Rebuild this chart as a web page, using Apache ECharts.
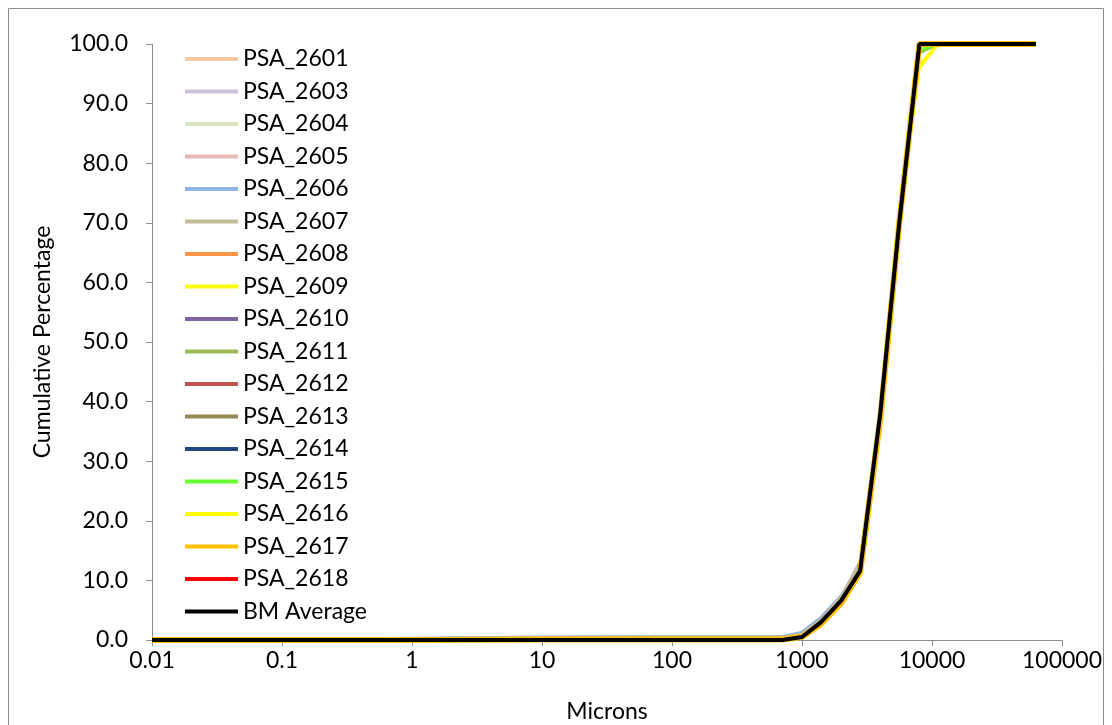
<!DOCTYPE html>
<html>
<head>
<meta charset="utf-8">
<script src="https://cdn.jsdelivr.net/npm/echarts@6/dist/echarts.min.js"></script>
<style>
  html, body { margin: 0; padding: 0; background: #fff; }
  #chart { width: 1112px; height: 725px; }
</style>
</head>
<body>
<div id="chart"></div>
<script>
// sieve sizes (microns)
const microns = [0.01, 0.1, 1, 10, 100, 710, 1000, 1400, 2000, 2800, 4000, 5600, 8000, 11200, 22400, 63000];

const psa2601 = [0, 0, 0.1, 0.2, 0.3, 0.3, 0.8, 3.2, 7.0, 12.4, 39, 71, 100, 100, 100, 100];
const psa2603 = [0, 0.1, 0.2, 0.4, 0.5, 0.5, 1.0, 3.5, 7.3, 13.0, 38, 70, 99.5, 100, 100, 100];
const psa2604 = [0, 0, 0.1, 0.3, 0.4, 0.4, 0.9, 3.3, 7.1, 12.6, 39, 71, 99.6, 100, 100, 100];
const psa2605 = [0, 0, 0.1, 0.2, 0.3, 0.3, 0.7, 3.0, 6.8, 12.0, 38, 70, 100, 100, 100, 100];
const psa2606 = [0, 0.1, 0.3, 0.5, 0.6, 0.6, 1.3, 3.8, 7.4, 12.5, 38, 70, 100, 100, 100, 100];
const psa2607 = [0, 0.1, 0.2, 0.4, 0.5, 0.5, 1.0, 3.4, 7.2, 13.2, 39, 71, 100, 100, 100, 100];
const psa2608 = [0, 0, 0, 0.1, 0.1, 0.1, 0.5, 2.8, 6.4, 11.6, 38, 70, 100, 100, 100, 100];
const psa2609 = [0, 0, 0, 0.1, 0.1, 0.1, 0.4, 2.6, 6.2, 11.3, 37, 72, 96.5, 100, 100, 100];
const psa2610 = [0, 0, 0, 0.1, 0.1, 0.1, 0.5, 2.9, 6.5, 11.7, 38, 70, 100, 100, 100, 100];
const psa2611 = [0, 0, 0, 0.1, 0.2, 0.2, 0.6, 3.0, 6.6, 11.8, 38, 70, 98.5, 100, 100, 100];
const psa2612 = [0, 0, 0, 0.1, 0.1, 0.1, 0.5, 2.9, 6.5, 11.6, 38, 70, 100, 100, 100, 100];
const psa2613 = [0, 0, 0, 0.1, 0.1, 0.1, 0.5, 2.9, 6.5, 11.7, 38, 70, 100, 100, 100, 100];
const psa2614 = [0, 0, 0, 0.1, 0.1, 0.1, 0.6, 3.0, 6.6, 11.8, 38, 70, 100, 100, 100, 100];
const psa2615 = [0, 0, 0, 0.1, 0.1, 0.1, 0.5, 2.8, 6.4, 11.5, 38, 70, 99.0, 100, 100, 100];
const psa2616 = [0, 0, 0, 0.1, 0.1, 0.1, 0.4, 2.5, 6.0, 11.0, 36, 72, 96.0, 100, 100, 100];
const psa2617 = [0, 0, 0, 0.1, 0.1, 0.1, 0.5, 2.7, 6.2, 11.3, 37, 70, 100, 100, 100, 100];
const psa2618 = [0, 0, 0, 0.1, 0.1, 0.1, 0.5, 2.9, 6.5, 11.6, 38, 70, 100, 100, 100, 100];
const bmAverage = [0, 0, 0, 0, 0, 0, 0.5, 3.0, 6.6, 11.6, 38, 70, 100, 100, 100, 100];

const seriesDefs = [
  ['PSA_2601', psa2601, '#F9C8A0', 3],
  ['PSA_2603', psa2603, '#CCC1DA', 3],
  ['PSA_2604', psa2604, '#D7E4BD', 3],
  ['PSA_2605', psa2605, '#E6B9B8', 3],
  ['PSA_2606', psa2606, '#8EB4E3', 3],
  ['PSA_2607', psa2607, '#C4BD97', 3],
  ['PSA_2608', psa2608, '#F79646', 3],
  ['PSA_2609', psa2609, '#FFFF00', 3],
  ['PSA_2610', psa2610, '#8064A2', 3],
  ['PSA_2611', psa2611, '#9BBB59', 3],
  ['PSA_2612', psa2612, '#C0504D', 3],
  ['PSA_2613', psa2613, '#948A54', 3],
  ['PSA_2614', psa2614, '#1F497D', 3],
  ['PSA_2615', psa2615, '#66FF33', 3],
  ['PSA_2616', psa2616, '#FFFF00', 3],
  ['PSA_2617', psa2617, '#FFC000', 6],
  ['PSA_2618', psa2618, '#FF0000', 3],
  ['BM Average', bmAverage, '#000000', 4]
];

const font = 'Lato, "Open Sans", sans-serif';
const axisGray = '#8C8C8C';

const chart = echarts.init(document.getElementById('chart'));

chart.setOption({
  animation: false,
  backgroundColor: '#fff',
  graphic: [{
    type: 'rect',
    shape: { x: 8.5, y: 8.5, width: 1095, height: 730 },
    style: { fill: 'none', stroke: '#8C8C8C', lineWidth: 1 },
    silent: true
  }],
  grid: { left: 152, right: 50, top: 44, bottom: 85, outerBoundsMode: 'none' },
  legend: {
    orient: 'vertical',
    left: 180,
    top: 42,
    itemWidth: 53,
    itemHeight: 4,
    itemGap: 8.5,
    textStyle: { fontFamily: font, fontSize: 23, lineHeight: 24, color: '#000' },
    data: seriesDefs.map(d => ({ name: d[0], icon: 'rect' }))
  },
  xAxis: {
    type: 'log',
    logBase: 10,
    min: 0.01,
    max: 100000,
    name: 'Microns',
    nameLocation: 'middle',
    nameGap: 60,
    nameTextStyle: { fontFamily: font, fontSize: 23, color: '#000' },
    axisLine: { onZero: false, lineStyle: { color: axisGray, width: 1 } },
    axisTick: { show: true, inside: false, length: 6, lineStyle: { color: axisGray } },
    minorTick: { show: false },
    splitLine: { show: false },
    axisLabel: {
      fontFamily: font, fontSize: 23, color: '#000', margin: 9,
      formatter: v => String(v)
    }
  },
  yAxis: {
    type: 'value',
    min: 0,
    max: 100,
    interval: 10,
    name: 'Cumulative Percentage',
    nameLocation: 'middle',
    nameGap: 98,
    nameTextStyle: { fontFamily: font, fontSize: 23, color: '#000' },
    axisLine: { show: true, lineStyle: { color: axisGray, width: 1 } },
    axisTick: { show: true, inside: false, length: 6, lineStyle: { color: axisGray } },
    splitLine: { show: false },
    axisLabel: {
      fontFamily: font, fontSize: 23, color: '#000', margin: 24,
      formatter: v => v.toFixed(1)
    }
  },
  series: seriesDefs.map(([name, vals, color, width]) => ({
    name,
    type: 'line',
    symbol: 'none',
    data: microns.map((m, i) => [m, vals[i]]),
    itemStyle: { color },
    lineStyle: { color, width },
    emphasis: { disabled: true }
  }))
});
</script>
</body>
</html>
